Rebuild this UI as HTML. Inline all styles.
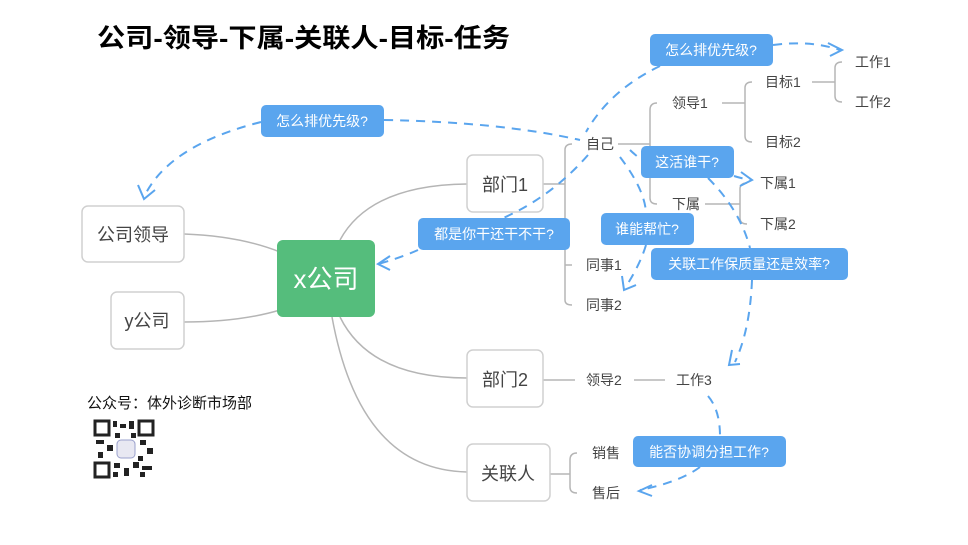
<!DOCTYPE html>
<html><head><meta charset="utf-8"><style>
html,body{margin:0;padding:0;background:#fff;}
svg{display:block;font-family:"Liberation Sans","Noto Sans CJK SC",sans-serif;}
.t{font-size:14px;fill:#444;}
.b{font-size:14px;fill:#fff;}
.n{font-size:18px;fill:#444;}
.g{stroke:#b5b5b5;stroke-width:1.5;fill:none;}
.d{stroke:#5aa5ee;stroke-width:2;fill:none;stroke-dasharray:9 7;}
.a{stroke:#5aa5ee;stroke-width:2;fill:none;}
</style></head><body>
<svg width="968" height="545" viewBox="0 0 968 545">
<text x="97" y="47" font-size="26" font-weight="bold" fill="#000" textLength="413" lengthAdjust="spacingAndGlyphs">公司-领导-下属-关联人-目标-任务</text>

<!-- main connectors -->
<path class="g" d="M184 234 Q240 236 280 252"/>
<path class="g" d="M184 322 Q240 322 280 310"/>
<path class="g" d="M340 240 Q370 185 467 184"/>
<path class="g" d="M340 317 Q370 378 467 378"/>
<path class="g" d="M332 317 Q360 470 467 472"/>

<!-- 部门1 bracket -->
<path class="g" d="M543 184 H565 M565 150 V300 M565 150 Q565 144 572 144 M565 265 H572 M565 300 Q565 305 572 305"/>
<!-- 自己 -> 领导1/下属 -->
<path class="g" d="M618 144 H650 M650 110 V198 M650 110 Q650 103 657 103 M650 198 Q650 204 657 204"/>
<path class="g" d="M722 103 H745 M745 88 V136 M745 88 Q745 82 752 82 M745 136 Q745 142 752 142"/>
<path class="g" d="M812 82 H835 M835 68 V96 M835 68 Q835 62 842 62 M835 96 Q835 102 842 102"/>
<path class="g" d="M705 204 H740 M740 189 V218 M740 189 Q740 183 747 183 M740 218 Q740 224 747 224"/>
<!-- 部门2 -->
<path class="g" d="M543 380 H575 M634 380 H665"/>
<!-- 关联人 -->
<path class="g" d="M550 474 H570 M570 460 V487 M570 460 Q570 453 577 453 M570 487 Q570 493 577 493"/>

<!-- nodes -->
<rect x="277" y="240" width="98" height="77" rx="6" fill="#55bd7c"/>
<text x="326" y="288" font-size="26" fill="#fff" text-anchor="middle">x公司</text>
<rect x="82" y="206" width="102" height="56" rx="6" fill="#fff" stroke="#d0d0d0" stroke-width="1.5"/>
<text x="133" y="241" class="n" text-anchor="middle">公司领导</text>
<rect x="111" y="292" width="73" height="57" rx="6" fill="#fff" stroke="#d0d0d0" stroke-width="1.5"/>
<text x="147" y="327" class="n" text-anchor="middle">y公司</text>
<rect x="467" y="155" width="76" height="57" rx="6" fill="#fff" stroke="#d0d0d0" stroke-width="1.5"/>
<text x="505" y="191" class="n" text-anchor="middle">部门1</text>
<rect x="467" y="350" width="76" height="57" rx="6" fill="#fff" stroke="#d0d0d0" stroke-width="1.5"/>
<text x="505" y="386" class="n" text-anchor="middle">部门2</text>
<rect x="467" y="444" width="83" height="57" rx="6" fill="#fff" stroke="#d0d0d0" stroke-width="1.5"/>
<text x="508" y="480" class="n" text-anchor="middle">关联人</text>

<!-- labels -->
<g class="t">
<text x="586" y="149">自己</text>
<text x="672" y="108">领导1</text>
<text x="765" y="87">目标1</text>
<text x="765" y="147">目标2</text>
<text x="855" y="67">工作1</text>
<text x="855" y="107">工作2</text>
<text x="672" y="209">下属</text>
<text x="760" y="188">下属1</text>
<text x="760" y="229">下属2</text>
<text x="586" y="270">同事1</text>
<text x="586" y="310">同事2</text>
<text x="586" y="385">领导2</text>
<text x="676" y="385">工作3</text>
<text x="592" y="458">销售</text>
<text x="592" y="498">售后</text>
</g>

<!-- dashed arrows -->
<path class="d" d="M773 45 Q810 40 840 50"/>
<path class="a" d="M828 43 L842 50 L830 56"/>
<path class="d" d="M660 66 Q610 90 586 132"/>
<path class="d" d="M384 120 Q500 122 580 140"/>
<path class="d" d="M261 122 Q170 145 145 195"/>
<path class="a" d="M138 185 L144 199 L155 190"/>
<path class="d" d="M588 155 Q540 210 470 230"/>
<path class="d" d="M418 250 Q400 258 378 264"/>
<path class="a" d="M390 256 L378 264 L390 270"/>
<path class="d" d="M630 150 Q640 160 660 170"/>
<path class="d" d="M734 176 Q740 178 750 180"/>
<path class="a" d="M741 172 L752 180 L740 186"/>
<path class="d" d="M620 157 Q645 190 646 213"/>
<path class="d" d="M646 245 Q640 265 625 288"/>
<path class="a" d="M622 276 L624 290 L636 285"/>
<path class="d" d="M708 178 Q740 210 750 248"/>
<path class="d" d="M752 280 Q750 330 735 362"/>
<path class="a" d="M732 350 L729 365 L740 364"/>
<path class="d" d="M708 396 Q720 410 720 436"/>
<path class="d" d="M700 467 Q680 482 640 490"/>
<path class="a" d="M652 485 L639 491 L652 496"/>

<!-- bubbles -->
<rect x="650" y="34" width="123" height="32" rx="5" fill="#5aa5ee"/>
<text x="711" y="55" class="b" text-anchor="middle">怎么排优先级?</text>
<rect x="261" y="105" width="123" height="32" rx="5" fill="#5aa5ee"/>
<text x="322" y="126" class="b" text-anchor="middle">怎么排优先级?</text>
<rect x="641" y="146" width="93" height="32" rx="5" fill="#5aa5ee"/>
<text x="687" y="167" class="b" text-anchor="middle">这活谁干?</text>
<rect x="418" y="218" width="152" height="32" rx="5" fill="#5aa5ee"/>
<text x="494" y="239" class="b" text-anchor="middle">都是你干还干不干?</text>
<rect x="601" y="213" width="93" height="32" rx="5" fill="#5aa5ee"/>
<text x="647" y="234" class="b" text-anchor="middle">谁能帮忙?</text>
<rect x="651" y="248" width="197" height="32" rx="5" fill="#5aa5ee"/>
<text x="749" y="269" class="b" text-anchor="middle">关联工作保质量还是效率?</text>
<rect x="633" y="436" width="153" height="31" rx="5" fill="#5aa5ee"/>
<text x="709" y="457" class="b" text-anchor="middle">能否协调分担工作?</text>

<!-- footer -->
<text x="87" y="408" font-size="15" fill="#111">公众号：体外诊断市场部</text>
<g fill="#222">
<rect x="94" y="420" width="60" height="58" fill="#fff"/>
<rect x="95" y="421" width="14" height="14" fill="none" stroke="#222" stroke-width="3"/>
<rect x="139" y="421" width="14" height="14" fill="none" stroke="#222" stroke-width="3"/>
<rect x="95" y="463" width="14" height="14" fill="none" stroke="#222" stroke-width="3"/>
<rect x="113" y="421" width="4" height="6"/><rect x="120" y="424" width="6" height="4"/><rect x="129" y="421" width="5" height="8"/>
<rect x="96" y="440" width="8" height="4"/><rect x="107" y="445" width="6" height="6"/><rect x="98" y="452" width="5" height="6"/>
<rect x="140" y="440" width="6" height="5"/><rect x="147" y="448" width="6" height="6"/><rect x="138" y="456" width="5" height="5"/>
<rect x="114" y="463" width="6" height="5"/><rect x="124" y="468" width="5" height="8"/><rect x="133" y="462" width="6" height="6"/>
<rect x="142" y="466" width="10" height="4"/><rect x="140" y="472" width="5" height="5"/><rect x="113" y="472" width="5" height="5"/>
<rect x="115" y="433" width="5" height="5"/><rect x="131" y="433" width="5" height="5"/>
<rect x="117" y="440" width="18" height="18" rx="4" fill="#e8e8f2" stroke="#9aa0cc"/>
</g>
</svg>
</body></html>
